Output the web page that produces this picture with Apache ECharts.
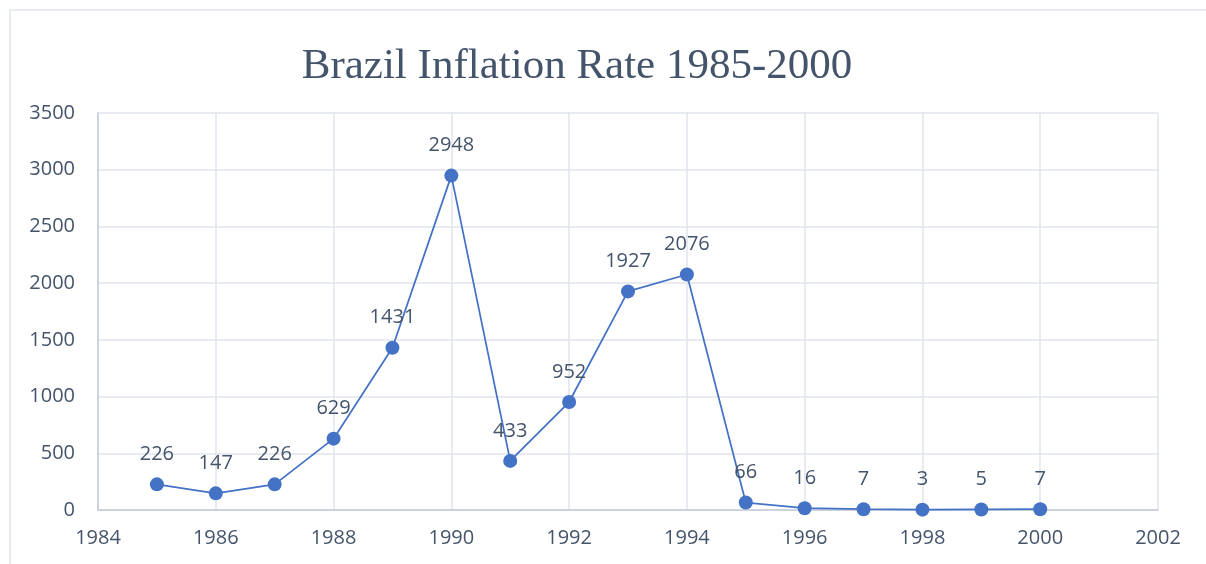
<!DOCTYPE html>
<html>
<head>
<meta charset="utf-8">
<script src="https://cdn.jsdelivr.net/npm/echarts@6/dist/echarts.min.js"></script>
<style>
html,body{margin:0;padding:0;background:#fff;}
#c{width:1206px;height:564px;}
</style>
</head>
<body>
<div id="c"></div>
<script>
const years = [1985,1986,1987,1988,1989,1990,1991,1992,1993,1994,1995,1996,1997,1998,1999,2000];
const inflation = [226,147,226,629,1431,2948,433,952,1927,2076,66,16,7,3,5,7];
const titleText = 'Brazil Inflation Rate 1985-2000';

const chart = echarts.init(document.getElementById('c'), null, {renderer:'canvas'});
const textColor = '#44546a';
const gridColor = '#e1e5ec';
const axisColor = '#c3cbd8';
const sansFont = '"Open Sans", "Noto Sans", sans-serif';

chart.setOption({
  animation: false,
  backgroundColor: '#ffffff',
  graphic: [{
    type: 'rect',
    shape: {x: 10, y: 10, width: 1210, height: 600},
    style: {fill: 'none', stroke: '#e1e5ec', lineWidth: 1.5},
    silent: true, z: -1
  }],
  title: {
    text: titleText,
    left: 572, top: 40, textAlign: 'center',
    textStyle: {fontFamily: '"Liberation Serif", "DejaVu Serif", serif', fontSize: 43, fontWeight: 'normal', color: textColor}
  },
  grid: {left: 98, right: 48, top: 113, bottom: 54, containLabel: false},
  xAxis: {
    type: 'value', min: 1984, max: 2002, interval: 2,
    axisLine: {show: true, lineStyle: {color: axisColor, width: 1.5}},
    axisTick: {show: false},
    splitLine: {show: true, lineStyle: {color: gridColor, width: 1.5}},
    axisLabel: {color: textColor, fontSize: 20, fontFamily: sansFont, margin: 18, formatter: v => String(v)}
  },
  yAxis: {
    type: 'value', min: 0, max: 3500, interval: 500,
    axisLine: {show: true, lineStyle: {color: axisColor, width: 1.5}},
    axisTick: {show: false},
    splitLine: {show: true, lineStyle: {color: gridColor, width: 1.5}},
    axisLabel: {color: textColor, fontSize: 20, fontFamily: sansFont, margin: 23, formatter: v => String(v)}
  },
  series: [{
    type: 'line',
    data: years.map((y, i) => [y, inflation[i]]),
    symbol: 'circle', symbolSize: 14,
    lineStyle: {color: '#4472c4', width: 1.75},
    itemStyle: {color: '#4472c4'},
    label: {
      show: true, position: 'top', distance: 13,
      color: textColor, fontSize: 20, fontFamily: sansFont,
      formatter: p => p.value[1]
    }
  }]
});
</script>
</body>
</html>
